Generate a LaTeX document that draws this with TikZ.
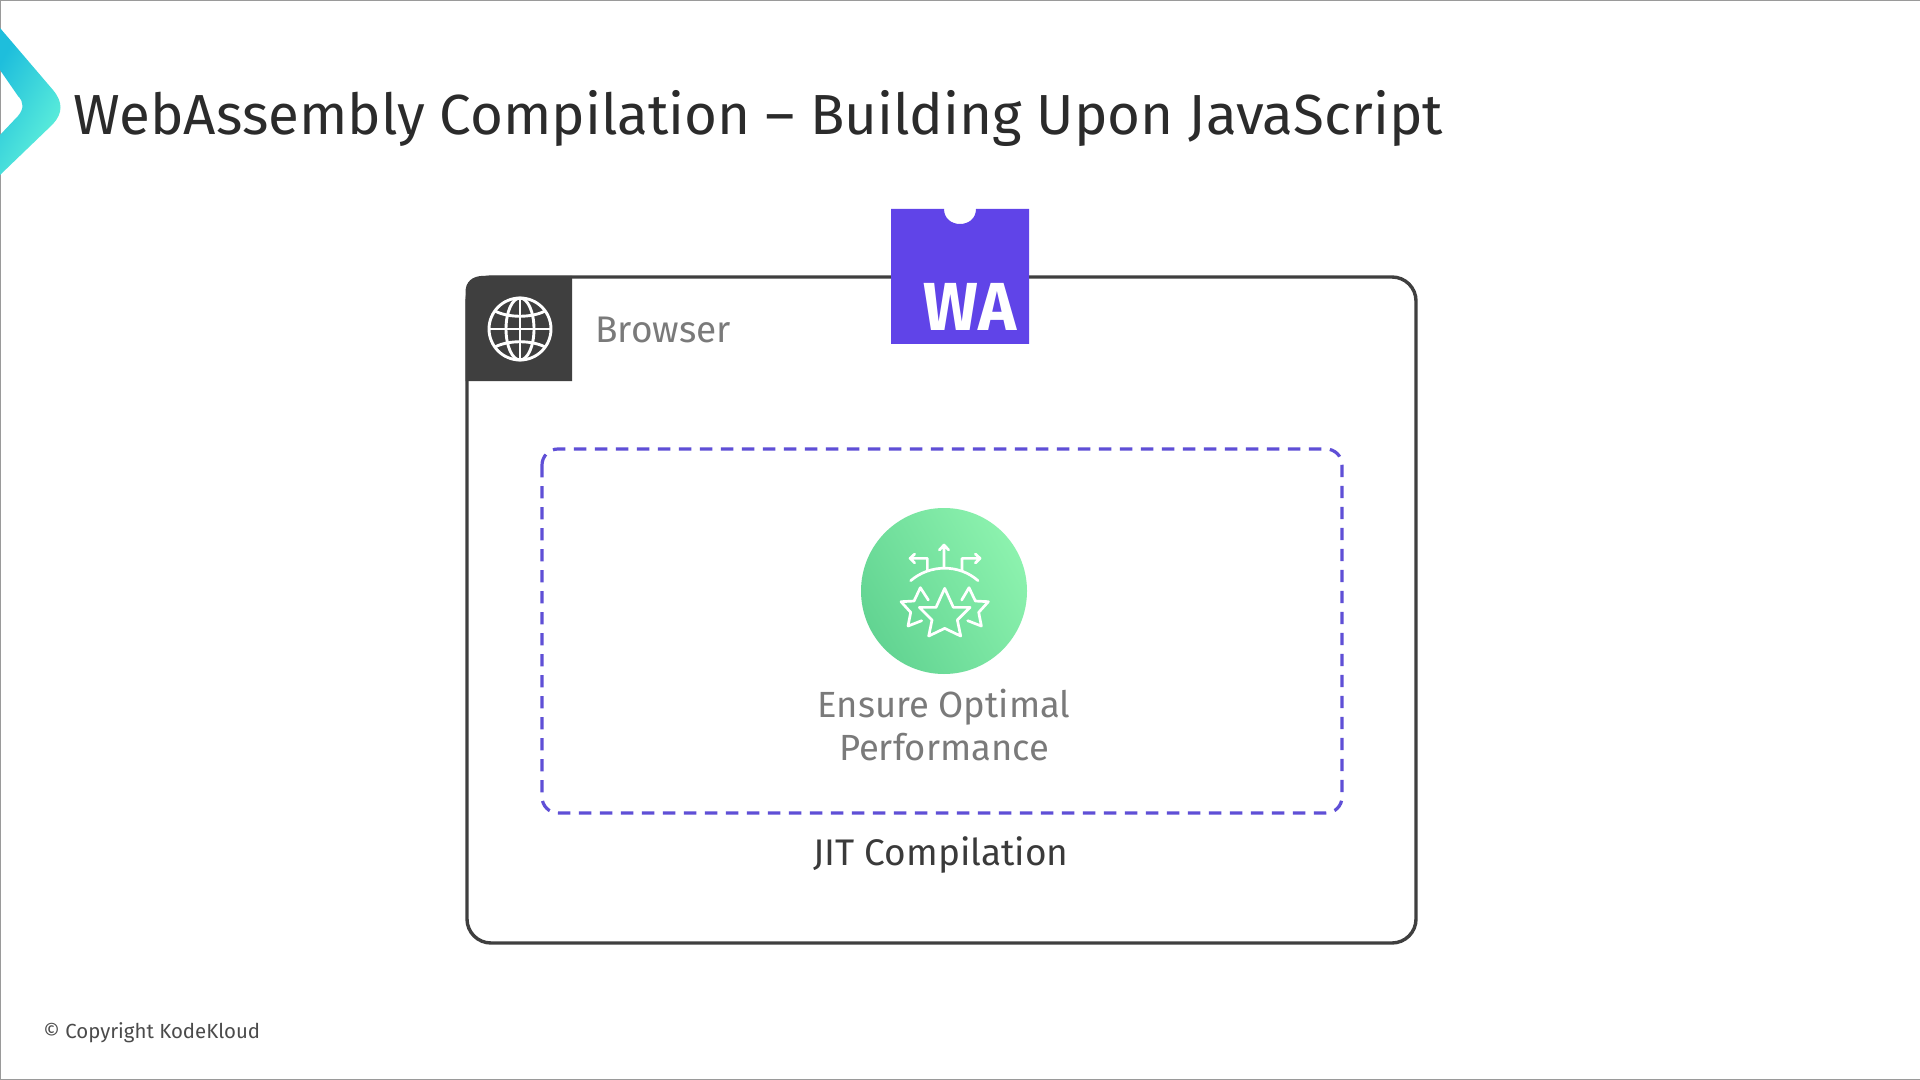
\documentclass[tikz,border=0pt]{standalone}
\usepackage{fontspec}
\setmainfont{Fira Sans}
\newfontfamily\boldwa{Fira Sans}[FakeStretch=0.95]
\definecolor{ink}{HTML}{2B2B2B}
\definecolor{jitink}{HTML}{3A3A3A}
\definecolor{frame}{HTML}{3F3F3F}
\definecolor{wapurple}{HTML}{6044E8}
\definecolor{dashpurple}{HTML}{5F4FD6}
\definecolor{greytxt}{HTML}{7A7A7A}
\definecolor{edgegrey}{HTML}{9A9A9A}
\tikzset{
  iconline/.style={draw=white,line width=1.35pt,line cap=round,line join=round},
  globeline/.style={draw=white,line width=1.45pt},
  label/.style={inner sep=0pt,align=center},
}
\begin{document}
\begin{tikzpicture}[x=0.5pt,y=-0.5pt]
\useasboundingbox (0,0) rectangle (1920,1080);
\fill[white] (0,0) rectangle (1920,1080);
\draw[edgegrey,line width=0.6pt] (1920,0.5) -- (0.5,0.5) -- (0.5,1079.5) -- (1920,1079.5);
% chevron
\shade[left color={rgb,255:red,30;green,190;blue,220},right color={rgb,255:red,100;green,244;blue,218},shading angle=60]
  (0,28) -- (53,90) .. controls (63,102) and (63,113) .. (53,124) -- (0,175) -- (0,135)
  -- (18,116) .. controls (24,109) and (24,102) .. (18,96) -- (0,70) -- cycle;
\node[label,anchor=base west,font=\fontsize{28.25}{34}\selectfont,text=ink] (title) at (73,135) {WebAssembly Compilation – Building Upon JavaScript};
% browser frame
\draw[frame,line width=1.7pt,rounded corners=12pt] (467,277) rectangle (1416,943);
\fill[frame] (465.5,381) -- (465.5,292) .. controls (465.5,282) and (472,275.8) .. (484,275.8) -- (572,275.8) -- (572,381) -- cycle;
\draw[globeline] (520,329) circle[radius=31];
\draw[globeline] (520,329) ellipse (14 and 31);
\draw[globeline] (520,298) -- (520,360);
\draw[globeline] (489,329) -- (551,329);
\draw[globeline] (495,311) .. controls (508,318) and (532,318) .. (545,311);
\draw[globeline] (495,347) .. controls (508,340) and (532,340) .. (545,347);
\node[label,anchor=base west,font=\fontsize{18.5}{22}\selectfont,text=greytxt] (browser) at (595,343) {Browser};
% WA logo
\fill[wapurple] (891,209) -- (944,209) .. controls (944,229) and (976,229) .. (976,209) -- (1029,209) -- (1029,344) -- (891,344) -- cycle;
\node[label,anchor=base,font=\boldwa\bfseries\fontsize{34}{40}\selectfont,text=white] (wa) at (970,330) {WA};
% dashed
\draw[dashpurple,line width=1.6pt,dash pattern=on 6.2pt off 4.3pt,rounded corners=8pt] (542,449) rectangle (1342,813);
% circle
\shade[left color={rgb,255:red,98;green,212;blue,146},right color={rgb,255:red,140;green,242;blue,174},shading angle=120] (944,591) circle[radius=83];
\begin{scope}[shift={(840,490)},x=0.1667pt,y=-0.1667pt]
\draw[iconline] (212,272) .. controls (270,222) and (358,222) .. (414,272);
\draw[iconline] (312,232) -- (312,165) (298,180) -- (312,165) -- (326,180);
\draw[iconline] (262,242) -- (262,205) -- (210,205) (224,192) -- (210,205) -- (224,219);
\draw[iconline] (366,242) -- (366,205) -- (420,205) (406,192) -- (420,205) -- (406,219);
\draw[iconline] (314,295) -- (340,352) -- (390,352) -- (352,390) -- (362,438) -- (314,415) -- (266,438) -- (276,390) -- (238,352) -- (288,352) -- cycle;
\draw[iconline] (265,330) -- (241,293) -- (222,333) -- (183,335) -- (212,367) -- (204,408) -- (245,392);
\draw[iconline] (365,330) -- (387,293) -- (406,333) -- (445,335) -- (416,367) -- (424,408) -- (383,392);
\end{scope}
\node[label,font=\fontsize{18.2}{21.3}\selectfont,text=greytxt] (ensure) at (944,725) {Ensure Optimal\\Performance};
\node[label,anchor=base,font=\fontsize{18.5}{22}\selectfont,text=jitink] (jit) at (941,865) {JIT Compilation};
\node[label,anchor=base west,font=\fontsize{10.2}{12}\selectfont,text=ink!85] (copy) at (43,1038.5) {© Copyright KodeKloud};
\end{tikzpicture}
\end{document}
